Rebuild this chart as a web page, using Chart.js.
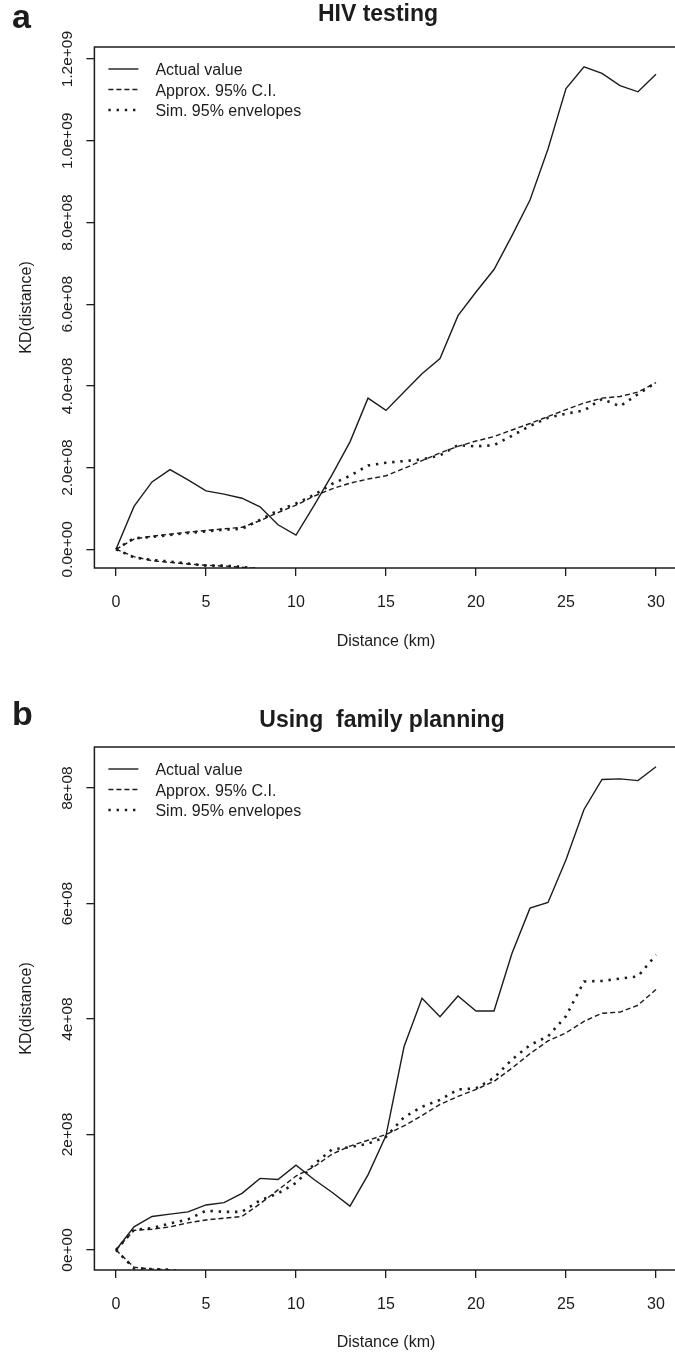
<!DOCTYPE html>
<html>
<head>
<meta charset="utf-8">
<script src="https://cdn.jsdelivr.net/npm/chart.js@4/dist/chart.umd.min.js"></script>
<style>
  html, body { margin: 0; padding: 0; background: #fff; overflow: hidden; width: 675px; height: 1355px; }
  canvas { position: absolute; left: 0; }
  #panelA { top: 0; }
  #panelB { top: 670px; }
</style>
</head>
<body>
<canvas id="panelA" width="690" height="670"></canvas>
<canvas id="panelB" width="690" height="685"></canvas>
<script>
// distances (km) and shared ticks
const distance = [0, 1, 2, 3, 4, 5, 6, 7, 8, 9, 10, 11, 12, 13, 14, 15, 16, 17, 18, 19, 20, 21, 22, 23, 24, 25, 26, 27, 28, 29, 30];
const xTicks = [0, 5, 10, 15, 20, 25, 30];
const legendLabels = ['Actual value', 'Approx. 95% C.I.', 'Sim. 95% envelopes'];

// panel a - HIV testing
const actualA = [0, 1.05e8, 1.65e8, 1.95e8, 1.70e8, 1.43e8, 1.35e8, 1.25e8, 1.04e8, 0.60e8, 0.35e8,
  1.07e8, 1.82e8, 2.63e8, 3.70e8, 3.40e8, 3.85e8, 4.30e8, 4.67e8, 5.72e8, 6.30e8,
  6.85e8, 7.68e8, 8.55e8, 9.80e8, 1.128e9, 1.181e9, 1.165e9, 1.135e9, 1.120e9, 1.163e9];
const ciUpperA = [0, 2.5e7, 3.2e7, 3.7e7, 4.2e7, 4.6e7, 5.0e7, 5.4e7, 7.0e7, 9.0e7, 1.08e8,
  1.30e8, 1.48e8, 1.62e8, 1.72e8, 1.80e8, 1.98e8, 2.17e8, 2.36e8, 2.52e8, 2.65e8,
  2.76e8, 2.92e8, 3.08e8, 3.25e8, 3.42e8, 3.58e8, 3.70e8, 3.74e8, 3.85e8, 4.08e8];
const simUpperA = [0, 2.7e7, 3.0e7, 3.5e7, 4.0e7, 4.4e7, 4.8e7, 5.0e7, 7.2e7, 9.5e7, 1.12e8,
  1.33e8, 1.60e8, 1.80e8, 2.05e8, 2.12e8, 2.16e8, 2.20e8, 2.30e8, 2.55e8, 2.52e8,
  2.55e8, 2.78e8, 3.02e8, 3.22e8, 3.32e8, 3.40e8, 3.68e8, 3.50e8, 3.80e8, 4.08e8];
const ciLowerA = [0, -1.8e7, -2.8e7, -3.2e7, -3.6e7, -3.9e7, -4.1e7, -4.4e7, -4.8e7, -5.5e7];
const simLowerA = [0, -2.0e7, -2.6e7, -3.0e7, -3.5e7, -4.0e7, -4.0e7, -4.3e7, -4.9e7, -5.6e7];
const yTicksA = [0, 2e8, 4e8, 6e8, 8e8, 1e9, 1.2e9];
const yTickLabelsA = ['0.0e+00', '2.0e+08', '4.0e+08', '6.0e+08', '8.0e+08', '1.0e+09', '1.2e+09'];

// panel b - Using family planning
const actualB = [0, 4.0e7, 5.8e7, 6.2e7, 6.6e7, 7.8e7, 8.2e7, 9.8e7, 1.24e8, 1.22e8, 1.47e8,
  1.22e8, 1.00e8, 7.6e7, 1.30e8, 1.98e8, 3.52e8, 4.36e8, 4.04e8, 4.40e8, 4.14e8,
  4.14e8, 5.14e8, 5.92e8, 6.02e8, 6.76e8, 7.63e8, 8.15e8, 8.16e8, 8.13e8, 8.37e8];
const ciUpperB = [0, 3.4e7, 3.6e7, 4.0e7, 4.7e7, 5.2e7, 5.5e7, 5.8e7, 8.0e7, 1.04e8, 1.28e8,
  1.44e8, 1.66e8, 1.80e8, 1.90e8, 2.00e8, 2.15e8, 2.33e8, 2.52e8, 2.66e8, 2.78e8,
  2.92e8, 3.15e8, 3.40e8, 3.62e8, 3.76e8, 3.96e8, 4.10e8, 4.12e8, 4.24e8, 4.51e8];
const simUpperB = [0, 3.5e7, 3.8e7, 4.6e7, 5.3e7, 6.8e7, 6.6e7, 6.6e7, 8.6e7, 9.8e7, 1.16e8,
  1.48e8, 1.74e8, 1.78e8, 1.84e8, 1.96e8, 2.30e8, 2.48e8, 2.60e8, 2.78e8, 2.80e8,
  2.98e8, 3.30e8, 3.55e8, 3.70e8, 4.05e8, 4.65e8, 4.66e8, 4.70e8, 4.74e8, 5.11e8];
const ciLowerB = [0, -3.0e7, -3.3e7, -3.45e7, -4.0e7];
const simLowerB = [0, -3.2e7, -3.3e7, -3.4e7, -4.0e7];
const yTicksB = [0, 2e8, 4e8, 6e8, 8e8];
const yTickLabelsB = ['0e+00', '2e+08', '4e+08', '6e+08', '8e+08'];

const FONT = '"Liberation Sans", Arial, Helvetica, sans-serif';
const INK = '#1c1c1c';

const lineStyles = {
  actual: { borderDash: [], borderWidth: 1.4 },
  ci: { borderDash: [5, 3], borderWidth: 1.4 },
  sim: { borderDash: [2.4, 5.8], borderWidth: 2.6 }
};

function series(values, style, label) {
  return {
    label: label,
    data: values.map((v, i) => ({ x: distance[i], y: v })),
    borderColor: INK,
    borderWidth: style.borderWidth,
    borderDash: style.borderDash,
    borderCapStyle: 'butt',
    pointRadius: 0,
    tension: 0,
    fill: false
  };
}

// box, rotated y tick labels, title, panel letter and legend
const decorPlugin = {
  id: 'decor',
  afterDraw(chart, args, opts) {
    const { ctx, chartArea: a } = chart;
    const y = chart.scales.y;
    ctx.save();
    ctx.setLineDash([]);
    ctx.strokeStyle = INK;
    ctx.lineWidth = 1.5;
    ctx.strokeRect(a.left, a.top, a.right - a.left, a.bottom - a.top);

    ctx.fillStyle = INK;
    ctx.font = `15.5px ${FONT}`;
    ctx.textAlign = 'center';
    ctx.textBaseline = 'alphabetic';
    opts.yTicks.forEach((v, i) => {
      ctx.save();
      ctx.translate(72, y.getPixelForValue(v));
      ctx.rotate(-Math.PI / 2);
      ctx.fillText(opts.yLabels[i], 0, 0);
      ctx.restore();
    });

    ctx.font = `bold 23px ${FONT}`;
    ctx.fillText(opts.title, opts.titleX, opts.titleY);
    ctx.font = `bold 34px ${FONT}`;
    ctx.textAlign = 'left';
    ctx.fillText(opts.letter, 12, opts.letterY);

    // legend in the top-left corner
    ctx.font = `16px ${FONT}`;
    const rows = [22, 42.5, 63];
    legendLabels.forEach((txt, i) => {
      const ds = chart.data.datasets[i];
      const ly = a.top + rows[i];
      ctx.beginPath();
      ctx.setLineDash(ds.borderDash);
      ctx.lineWidth = ds.borderWidth;
      ctx.moveTo(a.left + 14, ly);
      ctx.lineTo(a.left + 44, ly);
      ctx.stroke();
      ctx.setLineDash([]);
      ctx.fillText(txt, a.left + 61, ly + 6);
    });
    ctx.restore();
  }
};

function makePanel(id, d) {
  new Chart(document.getElementById(id), {
    type: 'line',
    data: {
      datasets: [
        series(d.actual, lineStyles.actual, legendLabels[0]),
        series(d.ciUpper, lineStyles.ci, legendLabels[1]),
        series(d.simUpper, lineStyles.sim, legendLabels[2]),
        series(d.ciLower, lineStyles.ci, legendLabels[1]),
        series(d.simLower, lineStyles.sim, legendLabels[2])
      ]
    },
    options: {
      responsive: false,
      animation: false,
      devicePixelRatio: 1,
      layout: { padding: { left: 0, top: d.padTop, right: 12.4, bottom: 0 } },
      scales: {
        x: {
          type: 'linear',
          min: -1.2,
          max: 31.2,
          afterBuildTicks: s => { s.ticks = xTicks.map(v => ({ value: v })); },
          afterFit: s => { s.height = d.xHeight; },
          border: { display: false },
          grid: { drawOnChartArea: false, drawTicks: true, tickLength: 8, color: INK, lineWidth: 1.3 },
          ticks: { color: INK, font: { family: FONT, size: 16 }, padding: 17, maxRotation: 0 },
          title: {
            display: true, text: 'Distance (km)', color: INK,
            font: { family: FONT, size: 16 }, padding: { top: 0, bottom: d.xTitlePad }
          }
        },
        y: {
          type: 'linear',
          min: d.yMin,
          max: d.yMax,
          afterBuildTicks: s => { s.ticks = d.yTicks.map(v => ({ value: v })); },
          afterFit: s => { s.width = 94.4; },
          border: { display: false },
          grid: { drawOnChartArea: false, drawTicks: true, tickLength: 8, color: INK, lineWidth: 1.3 },
          ticks: { display: false },
          title: {
            display: true, text: 'KD(distance)', color: INK,
            font: { family: FONT, size: 16 }, padding: { top: 17.4, bottom: 0 }
          }
        }
      },
      plugins: {
        legend: { display: false },
        tooltip: { enabled: false },
        decor: {
          yTicks: d.yTicks, yLabels: d.yLabels, title: d.title, titleX: d.titleX,
          titleY: d.titleY, letter: d.letter, letterY: d.letterY
        }
      }
    },
    plugins: [decorPlugin]
  });
}

makePanel('panelA', {
  actual: actualA, ciUpper: ciUpperA, simUpper: simUpperA, ciLower: ciLowerA, simLower: simLowerA,
  yTicks: yTicksA, yLabels: yTickLabelsA, yMin: -4.58e7, yMax: 1.2297e9,
  padTop: 47, xHeight: 102, xTitlePad: 18.7,
  title: 'HIV testing', titleX: 378, titleY: 21, letter: 'a', letterY: 28
});

makePanel('panelB', {
  actual: actualB, ciUpper: ciUpperB, simUpper: simUpperB, ciLower: ciLowerB, simLower: simLowerB,
  yTicks: yTicksB, yLabels: yTickLabelsB, yMin: -3.47e7, yMax: 8.712e8,
  padTop: 77, xHeight: 85, xTitlePad: 2.4,
  title: 'Using  family planning', titleX: 382, titleY: 57, letter: 'b', letterY: 55
});
</script>
</body>
</html>
